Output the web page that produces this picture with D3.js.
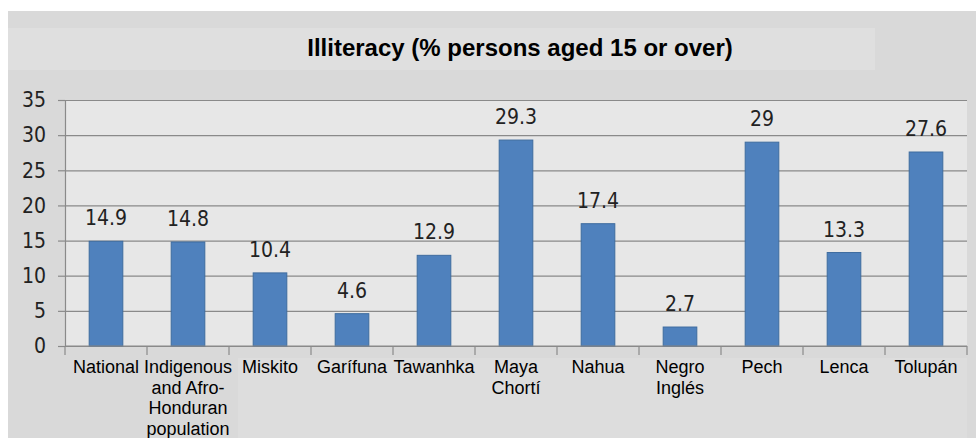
<!DOCTYPE html>
<html>
<head>
<meta charset="utf-8">
<script src="https://cdn.jsdelivr.net/npm/d3@7"></script>
<style>
  html, body { margin: 0; padding: 0; background: #fff; }
  svg { display: block; }
  .num { font-family: "Liberation Sans Narrow", "DejaVu Sans Condensed", "Roboto", sans-serif; }
</style>
</head>
<body>
<div id="chart"></div>
<script>
// chart data
const categories = ["National", "Indigenous and Afro-Honduran population", "Miskito", "Garífuna",
  "Tawanhka", "Maya Chortí", "Nahua", "Negro Inglés", "Pech", "Lenca", "Tolupán"];
const labelLines = [["National"], ["Indigenous", "and Afro-", "Honduran", "population"], ["Miskito"],
  ["Garífuna"], ["Tawanhka"], ["Maya", "Chortí"], ["Nahua"], ["Negro", "Inglés"], ["Pech"], ["Lenca"], ["Tolupán"]];
const values = [14.9, 14.8, 10.4, 4.6, 12.9, 29.3, 17.4, 2.7, 29, 13.3, 27.6];
const yTicks = [0, 5, 10, 15, 20, 25, 30, 35];
const title = "Illiteracy (% persons aged 15 or over)";

const width = 976;
const height = 438;
const plot = { left: 65, right: 967, top: 100, bottom: 346 };
const sans = '"Liberation Sans", Arial, sans-serif';

const svg = d3.select('#chart')
  .append('svg')
  .attr('width', width)
  .attr('height', height);

// backgrounds
svg.append('rect').attr('x', 8).attr('y', 11).attr('width', width - 8).attr('height', height - 11)
  .attr('fill', '#d9d9d9');
svg.append('rect').attr('x', 8).attr('y', 28).attr('width', 867).attr('height', 42)
  .attr('fill', '#dfdfdf');
svg.append('rect').attr('x', 238).attr('y', 358).attr('width', plot.right - 238).attr('height', height - 358)
  .attr('fill', '#dddddd');
svg.append('rect').attr('x', plot.left).attr('y', plot.top)
  .attr('width', plot.right - plot.left).attr('height', plot.bottom - plot.top)
  .attr('fill', '#e7e7e7');

// title
svg.append('text')
  .attr('x', 520).attr('y', 56)
  .attr('text-anchor', 'middle')
  .style('font-family', sans)
  .style('font-weight', 'bold')
  .style('font-size', '24px')
  .attr('fill', '#000')
  .text(title);

const xSlot = d3.scaleBand().domain(categories).range([plot.left, plot.right]).padding(0);
const xBar = d3.scaleBand().domain(categories).range([plot.left, plot.right])
  .paddingInner(0.59).paddingOuter(0.295);
const y = d3.scaleLinear().domain([0, 35]).range([plot.bottom, plot.top]);

// gridlines
svg.append('g')
  .attr('class', 'gridlines')
  .attr('transform', `translate(${plot.left}, 0)`)
  .call(d3.axisLeft(y).tickValues(yTicks).tickFormat('').tickSize(-(plot.right - plot.left)))
  .call(g => g.select('.domain').remove())
  .call(g => g.selectAll('line').attr('stroke', '#8a8a8a').attr('stroke-width', 1.2));

// y axis
const yAxis = svg.append('g')
  .attr('transform', `translate(${plot.left}, 0)`)
  .call(d3.axisLeft(y).tickValues(yTicks).tickSizeOuter(0).tickSize(7).tickPadding(12));
yAxis.select('.domain').attr('stroke', '#8a8a8a').attr('stroke-width', 1.2);
yAxis.selectAll('line').attr('stroke', '#8a8a8a').attr('stroke-width', 1.2);
yAxis.selectAll('text')
  .attr('class', 'num')
  .style('font-size', '21px')
  .attr('fill', '#222');

// bars
svg.append('g')
  .selectAll('rect')
  .data(values)
  .join('rect')
  .attr('x', (d, i) => xBar(categories[i]))
  .attr('y', d => y(d))
  .attr('width', xBar.bandwidth())
  .attr('height', d => y(0) - y(d))
  .attr('fill', '#4f81bd')
  .attr('stroke', '#3e6c9f')
  .attr('stroke-width', 1);

// value labels
svg.append('g')
  .selectAll('text')
  .data(values)
  .join('text')
  .attr('class', 'num')
  .attr('x', (d, i) => xBar(categories[i]) + xBar.bandwidth() / 2)
  .attr('y', d => y(d) - 16)
  .attr('text-anchor', 'middle')
  .style('font-size', '21px')
  .attr('fill', '#222')
  .text(d => d);

// x axis (category boundaries)
const xAxis = svg.append('g').attr('transform', `translate(0, ${plot.bottom})`);
xAxis.append('line')
  .attr('x1', plot.left).attr('x2', plot.right)
  .attr('stroke', '#8a8a8a').attr('stroke-width', 1.2);
xAxis.selectAll('line.tick')
  .data(categories.concat([null]))
  .join('line')
  .attr('class', 'tick')
  .attr('x1', (d, i) => plot.left + i * xSlot.step())
  .attr('x2', (d, i) => plot.left + i * xSlot.step())
  .attr('y1', 0).attr('y2', 9)
  .attr('stroke', '#8a8a8a').attr('stroke-width', 1.2);

// category labels
const labels = xAxis.selectAll('text.cat')
  .data(labelLines)
  .join('text')
  .attr('class', 'cat')
  .attr('text-anchor', 'middle')
  .style('font-family', sans)
  .style('font-size', '18px')
  .attr('fill', '#000');
labels.selectAll('tspan')
  .data((d, i) => d.map(t => ({ t, i })))
  .join('tspan')
  .attr('x', d => xSlot(categories[d.i]) + xSlot.bandwidth() / 2)
  .attr('y', (d, j) => 27 + j * 20.5)
  .text(d => d.t);
</script>
</body>
</html>
